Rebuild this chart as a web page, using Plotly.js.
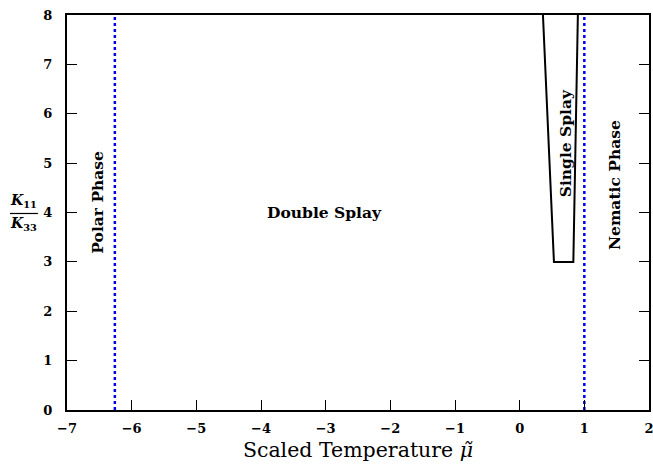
<!DOCTYPE html>
<html><head><meta charset="utf-8">
<script src="https://cdn.plot.ly/plotly-3.0.1.min.js"></script>
<style>html,body{margin:0;padding:0;background:#fff}</style>
</head><body>
<div id="chart" style="width:653px;height:465px"></div>
<script>
// Data
const boundaryX = [0.36, 0.43, 0.47, 0.50, 0.53, 0.83, 0.86, 0.90];
const boundaryY = [8, 6, 5, 4, 3, 3, 5, 8];
const polarX = -6.26;
const nematicX = 1.0;
const xTicks = [-7, -6, -5, -4, -3, -2, -1, 0, 1, 2];
const yTicks = [0, 1, 2, 3, 4, 5, 6, 7, 8];
const labels = ["Double Splay", "Polar Phase", "Single Splay", "Nematic Phase"];
const labelX = [-3.02, -6.52, 0.70, 1.47];
const labelY = [3.99, 4.2, 5.4, 4.55];
const labelAngle = [0, -90, -90, -90];

const serif = "'DejaVu Serif', 'Liberation Serif', serif";
const traces = [
  {x: boundaryX, y: boundaryY, mode: 'lines', line: {color: '#000', width: 2}, showlegend: false, hoverinfo: 'skip'},
  {x: [polarX, polarX], y: [0, 8], mode: 'lines', line: {color: '#0000ee', width: 2.5, dash: 'dot'}, showlegend: false},
  {x: [nematicX, nematicX], y: [0, 8], mode: 'lines', line: {color: '#0000ee', width: 2.5, dash: 'dot'}, showlegend: false}
];
const annotations = labels.map((t, i) => ({
  x: labelX[i], y: labelY[i], xref: 'x', yref: 'y', text: '<b>' + t + '</b>',
  textangle: labelAngle[i], showarrow: false,
  font: {family: serif, size: 15.5, color: '#000'}
}));
annotations.push({xref: 'paper', yref: 'y', x: -0.074, y: 4.24, text: '<b><i>K</i><sub>11</sub></b>', showarrow: false, xanchor: 'center', font: {family: serif, size: 14, color: '#000'}});
annotations.push({xref: 'paper', yref: 'y', x: -0.074, y: 3.76, text: '<b><i>K</i><sub>33</sub></b>', showarrow: false, xanchor: 'center', font: {family: serif, size: 14, color: '#000'}});
const layout = {
  width: 653, height: 465,
  margin: {l: 67, r: 4, t: 15, b: 55},
  paper_bgcolor: '#fff', plot_bgcolor: '#fff',
  font: {family: serif, color: '#000'},
  xaxis: {range: [-7, 2], tickvals: xTicks, ticks: 'inside', ticklen: 10, tickwidth: 1, tickcolor: '#000',
    showline: true, linecolor: '#000', linewidth: 2, mirror: true, showgrid: false, zeroline: false,
    ticklabeloverflow: 'allow', ticklabelstandoff: 5,
    tickfont: {family: serif, size: 13, weight: 'bold'},
    title: {text: 'Scaled Temperature <i>μ̃</i>', font: {family: serif, size: 20.5}, standoff: 8}},
  yaxis: {range: [0, 8], tickvals: yTicks, ticks: 'inside', ticklen: 10, tickwidth: 1, tickcolor: '#000',
    showline: true, linecolor: '#000', linewidth: 2, mirror: 'ticks', showgrid: false, zeroline: false,
    ticklabelstandoff: 10,
    tickfont: {family: serif, size: 13, weight: 'bold'}},
  shapes: [{type: 'line', xref: 'paper', yref: 'y', x0: -0.098, x1: -0.05, y0: 3.98, y1: 3.98, line: {color: '#000', width: 1.2}}],
  annotations: annotations
};
Plotly.newPlot('chart', traces, layout, {displayModeBar: false});
</script>
</body></html>
